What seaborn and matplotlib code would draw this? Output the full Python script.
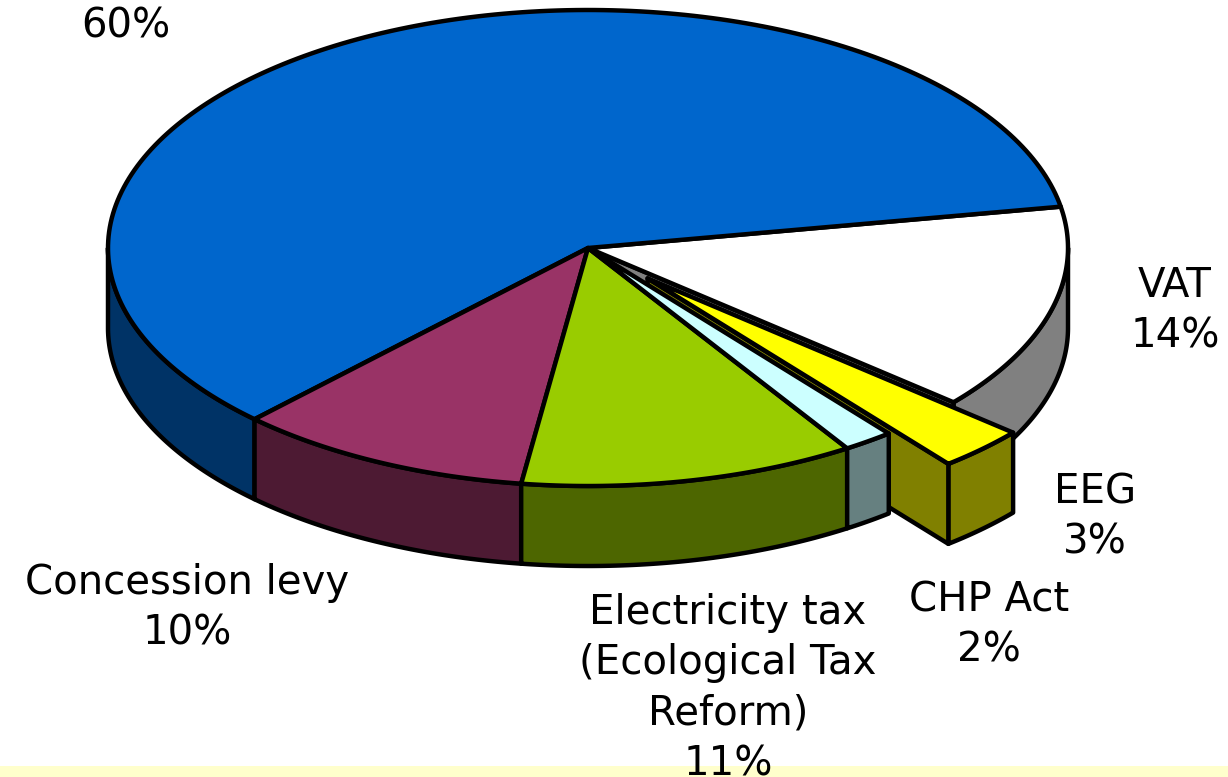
import numpy as np
import matplotlib
matplotlib.use('Agg')
import matplotlib.pyplot as plt
import seaborn as sns

# shares in percent, counter-clockwise from the start angle
shares = [60, 10, 11.3, 1.7, 3, 14]
explode = [0, 0, 0, 0, 0.178, 0]
top_colors = ['#0066CC', '#993366', '#99CC00', '#CCFFFF', '#FFFF00', '#FFFFFF']
side_colors = ['#003366', '#4D1A33', '#4D6600', '#668080', '#808000', '#808080']

label_lines = [
    ['60%'],
    ['Concession levy', '10%'],
    ['Electricity tax', '(Ecological Tax', 'Reform)', '11%'],
    ['CHP Act', '2%'],
    ['EEG', '3%'],
    ['VAT', '14%'],
]
label_x = [126, 187, 728, 989, 1095, 1175]
label_y = [26, 583, 613, 600, 492, 286]

sns.set_theme(style='white')
plt.rcParams['font.family'] = ['DejaVu Sans']

# pie geometry in pixels
cx, cy = 588, 248
rx, ry = 480, 238
depth = 80
start = 10
line = 3.2

fig = plt.figure(figsize=(12.28, 7.77), dpi=100, facecolor='white')
ax = fig.add_axes([0, 0, 1, 1])
ax.set_xlim(0, 1228)
ax.set_ylim(777, 0)
ax.axis('off')

# pale band along the bottom of the slide
ax.axhspan(766, 777, color='#FFFFCC', lw=0, zorder=0)

edges = start + 3.6 * np.concatenate([[0], np.cumsum(shares)])


def rim(a0, a1, ox, oy, dy=0):
    t = np.radians(np.linspace(a0, a1, 200))
    return ox + rx * np.cos(t), oy - ry * np.sin(t) + dy


def poly(xs, ys, color):
    ax.fill(xs, ys, facecolor=color, edgecolor='black', lw=line, joinstyle='round')


def outer_wall(a0, a1, ox, oy, color):
    # only the part of the rim facing the viewer (lower half) has a wall
    for lo, hi in [(180, 360), (540, 720)]:
        b0, b1 = max(a0, lo), min(a1, hi)
        if b1 > b0:
            x, y = rim(b0, b1, ox, oy)
            x2, y2 = rim(b1, b0, ox, oy, depth)
            poly(np.r_[x, x2], np.r_[y, y2], color)


def radial_wall(a, ox, oy, color):
    x, y = rim(a, a, ox, oy)
    x, y = x[0], y[0]
    poly([ox, x, x, ox], [oy, y, y + depth, oy + depth], color)


def top(a0, a1, ox, oy, color):
    x, y = rim(a0, a1, ox, oy)
    poly(np.r_[ox, x], np.r_[oy, y], color)


# back to front: VAT, exploded EEG, then the rest of the pie
order = [5, 4, 0, 1, 2, 3]
for i in order:
    a0, a1 = edges[i], edges[i + 1]
    mid = np.radians((a0 + a1) / 2)
    ox = cx + explode[i] * rx * np.cos(mid)
    oy = cy - explode[i] * ry * np.sin(mid)
    outer_wall(a0, a1, ox, oy, side_colors[i])
    if i in (4, 5):
        radial_wall(a0, ox, oy, side_colors[i])
    top(a0, a1, ox, oy, top_colors[i])

for lines, x, y in zip(label_lines, label_x, label_y):
    for k, txt in enumerate(lines):
        ax.text(x, y + 50.4 * k, txt, ha='center', va='center', fontsize=29,
                color='black', zorder=10)

fig.savefig('out.png', dpi=100, facecolor='white')
